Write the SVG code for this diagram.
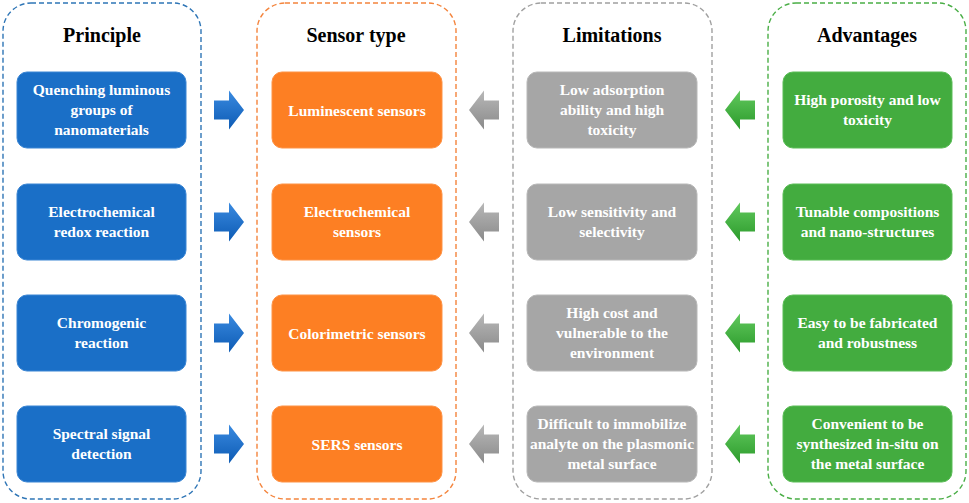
<svg xmlns="http://www.w3.org/2000/svg" width="969" height="503" viewBox="0 0 969 503">
<defs>
<linearGradient id="gBlue" x1="0" y1="0" x2="0" y2="1"><stop offset="0" stop-color="#3a8ae0"/><stop offset="1" stop-color="#0d5bb4"/></linearGradient>
<linearGradient id="gGray" x1="0" y1="0" x2="0" y2="1"><stop offset="0" stop-color="#b8b8b8"/><stop offset="1" stop-color="#8a8a8a"/></linearGradient>
<linearGradient id="gGreen" x1="0" y1="0" x2="0" y2="1"><stop offset="0" stop-color="#62c95e"/><stop offset="1" stop-color="#2b9a2b"/></linearGradient>
<path id="arR" d="M0,-9.5 H15 V-19.5 L30,0 L15,19.5 V9.5 H0 Z"/>
<path id="arL" d="M0,0 L15,-19.5 V-9.5 H30 V9.5 H15 V19.5 Z"/>
</defs>
<style>
.frame{fill:none;stroke-width:1.4;stroke-dasharray:5 3}
.title{font-family:"Liberation Serif","Times New Roman",serif;font-weight:bold;font-size:20px;fill:#000;text-anchor:middle}
.t{font-family:"Liberation Serif","Times New Roman",serif;font-weight:bold;font-size:15.5px;fill:#fff;text-anchor:middle}
.blue{fill:#1a6fc7;stroke:#3b86d4;stroke-width:1}
.orange{fill:#fd7f23;stroke:#fd9347;stroke-width:1}
.gray{fill:#a6a6a6;stroke:#b8b8b8;stroke-width:1}
.green{fill:#43ac3f;stroke:#5bbd57;stroke-width:1}
</style>
<rect width="969" height="503" fill="#fff"/>

<g id="col-principle">
<rect class="frame" x="3" y="3" width="198" height="496" rx="28" stroke="#2e75b6"/>
<text class="title" x="102" y="42">Principle</text>
</g>
<g id="col-sensor">
<rect class="frame" x="257" y="3" width="199" height="496" rx="28" stroke="#f4843c"/>
<text class="title" x="356" y="42">Sensor type</text>
</g>
<g id="col-limitations">
<rect class="frame" x="513" y="3" width="199" height="496" rx="28" stroke="#a0a0a0"/>
<text class="title" x="612" y="42">Limitations</text>
</g>
<g id="col-advantages">
<rect class="frame" x="768" y="3" width="198" height="496" rx="28" stroke="#4aae46"/>
<text class="title" x="867" y="42">Advantages</text>
</g>

<g id="p1"><rect class="blue" x="17" y="72" width="169" height="76" rx="10"/>
<text class="t" x="101.5"><tspan x="101.5" y="95">Quenching luminous</tspan><tspan x="101.5" y="115">groups of</tspan><tspan x="101.5" y="135">nanomaterials</tspan></text></g>
<g id="p2"><rect class="blue" x="17" y="184" width="169" height="76" rx="10"/>
<text class="t"><tspan x="101.5" y="217">Electrochemical</tspan><tspan x="101.5" y="237">redox reaction</tspan></text></g>
<g id="p3"><rect class="blue" x="17" y="295" width="169" height="76" rx="10"/>
<text class="t"><tspan x="101.5" y="328">Chromogenic</tspan><tspan x="101.5" y="348">reaction</tspan></text></g>
<g id="p4"><rect class="blue" x="17" y="406" width="169" height="76" rx="10"/>
<text class="t"><tspan x="101.5" y="439">Spectral signal</tspan><tspan x="101.5" y="459">detection</tspan></text></g>

<g id="s1"><rect class="orange" x="272" y="72" width="170" height="76" rx="10"/>
<text class="t" x="357" y="116">Luminescent sensors</text></g>
<g id="s2"><rect class="orange" x="272" y="184" width="170" height="76" rx="10"/>
<text class="t"><tspan x="357" y="217">Electrochemical</tspan><tspan x="357" y="237">sensors</tspan></text></g>
<g id="s3"><rect class="orange" x="272" y="295" width="170" height="76" rx="10"/>
<text class="t" x="357" y="339">Colorimetric sensors</text></g>
<g id="s4"><rect class="orange" x="272" y="406" width="170" height="76" rx="10"/>
<text class="t" x="357" y="450">SERS sensors</text></g>

<g id="l1"><rect class="gray" x="527" y="72" width="170" height="76" rx="10"/>
<text class="t"><tspan x="612" y="95">Low adsorption</tspan><tspan x="612" y="115">ability and high</tspan><tspan x="612" y="135">toxicity</tspan></text></g>
<g id="l2"><rect class="gray" x="527" y="184" width="170" height="76" rx="10"/>
<text class="t"><tspan x="612" y="217">Low sensitivity and</tspan><tspan x="612" y="237">selectivity</tspan></text></g>
<g id="l3"><rect class="gray" x="527" y="295" width="170" height="76" rx="10"/>
<text class="t"><tspan x="612" y="318">High cost and</tspan><tspan x="612" y="338">vulnerable to the</tspan><tspan x="612" y="358">environment</tspan></text></g>
<g id="l4"><rect class="gray" x="527" y="406" width="170" height="76" rx="10"/>
<text class="t"><tspan x="612" y="429">Difficult to immobilize</tspan><tspan x="612" y="449">analyte on the plasmonic</tspan><tspan x="612" y="469">metal surface</tspan></text></g>

<g id="a1"><rect class="green" x="783" y="72" width="169" height="76" rx="10"/>
<text class="t"><tspan x="867.5" y="105">High porosity and low</tspan><tspan x="867.5" y="125">toxicity</tspan></text></g>
<g id="a2"><rect class="green" x="783" y="184" width="169" height="76" rx="10"/>
<text class="t"><tspan x="867.5" y="217">Tunable compositions</tspan><tspan x="867.5" y="237">and nano-structures</tspan></text></g>
<g id="a3"><rect class="green" x="783" y="295" width="169" height="76" rx="10"/>
<text class="t"><tspan x="867.5" y="328">Easy to be fabricated</tspan><tspan x="867.5" y="348">and robustness</tspan></text></g>
<g id="a4"><rect class="green" x="783" y="406" width="169" height="76" rx="10"/>
<text class="t"><tspan x="867.5" y="429">Convenient to be</tspan><tspan x="867.5" y="449">synthesized in-situ on</tspan><tspan x="867.5" y="469">the metal surface</tspan></text></g>

<g id="connectors">
<use href="#arR" transform="translate(214,110)" fill="url(#gBlue)"/>
<use href="#arR" transform="translate(214,222)" fill="url(#gBlue)"/>
<use href="#arR" transform="translate(214,333)" fill="url(#gBlue)"/>
<use href="#arR" transform="translate(214,444)" fill="url(#gBlue)"/>
<use href="#arL" transform="translate(469,110)" fill="url(#gGray)"/>
<use href="#arL" transform="translate(469,222)" fill="url(#gGray)"/>
<use href="#arL" transform="translate(469,333)" fill="url(#gGray)"/>
<use href="#arL" transform="translate(469,444)" fill="url(#gGray)"/>
<use href="#arL" transform="translate(725,110)" fill="url(#gGreen)"/>
<use href="#arL" transform="translate(725,222)" fill="url(#gGreen)"/>
<use href="#arL" transform="translate(725,333)" fill="url(#gGreen)"/>
<use href="#arL" transform="translate(725,444)" fill="url(#gGreen)"/>
</g>
</svg>
